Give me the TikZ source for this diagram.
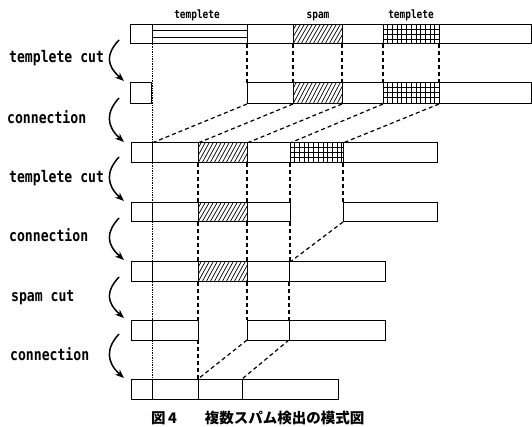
\documentclass[tikz,border=0pt]{standalone}
\usepackage{fontspec}
\newfontfamily\lblfont[FakeStretch=0.82]{DejaVu Sans Mono}
\newfontfamily\cjkfont{Noto Sans CJK JP}
\usetikzlibrary{arrows.meta}
\tikzset{
  bar/.style={draw=black, line width=1pt, fill=white},
  hline/.style={draw=black, line width=1pt},
  dline/.style={draw=black, line width=1.2pt, dash pattern=on 4pt off 3pt},
  dotline/.style={draw=black, line width=0.7pt, dash pattern=on 0.8pt off 0.9pt},
  hatchline/.style={draw=black, line width=0.7pt},
  steparrow/.style={draw=black, line width=1.5pt, -{Stealth[length=9pt,width=7pt]}},
  sidelbl/.style={font=\lblfont\bfseries\fontsize{16}{17}\selectfont, anchor=west, inner sep=0pt},
  toplbl/.style={font=\lblfont\bfseries\fontsize{11.5}{12}\selectfont, anchor=base, inner sep=0pt},
  caption/.style={font=\cjkfont\bfseries\fontsize{14.5}{15}\selectfont, anchor=west, inner sep=0pt}
}
\newcommand\hatchrect[4]{%
  \begin{scope}
    \clip (#1,#2) rectangle (#3,#4);
    \foreach \k in {-16,-12,...,60} {
      \draw[hatchline] ({#1+\k},#4) -- ({#1+\k+11},#2);
    }
  \end{scope}
  \draw[hline] (#1,#2) rectangle (#3,#4);
}
\newcommand\gridrect[4]{%
  \begin{scope}
    \clip (#1,#2) rectangle (#3,#4);
    \foreach \k in {4.7,9.4,...,60} {
      \draw[hatchline] ({#1+\k},#2) -- ({#1+\k},#4);
    }
    \foreach \k in {4.8,9.6,14.4} {
      \draw[hatchline] (#1,{#2+\k}) -- (#3,{#2+\k});
    }
  \end{scope}
  \draw[hline] (#1,#2) rectangle (#3,#4);
}
\begin{document}
\begin{tikzpicture}[x=1pt,y=-1pt]
\useasboundingbox (0,0) rectangle (532,427);
\fill[white] (0,0) rectangle (532,427);

% dotted guide
\coordinate (gtop) at (152,44);
\coordinate (gbot) at (152,379);
\draw[dotline] (gtop) -- (gbot);

% ---------- dashed connectors ----------
% row1 -> row2
\foreach \x in {247,293,342,383,439} \draw[dline] (\x,44) -- (\x,83);
% row2 -> row3
\foreach \a/\b in {247/152,293/198,342/247,383/290,439/343} \draw[dline] (\a,104) -- (\b,143);
% row3 -> row4
\foreach \x in {198,247,290,343} \draw[dline] (\x,163) -- (\x,203);
% row4 -> row5
\foreach \x in {198,247,290} \draw[dline] (\x,222) -- (\x,262);
\draw[dline] (343,222) -- (290,262);
% row5 -> row6
\foreach \x in {198,247,289} \draw[dline] (\x,282) -- (\x,320);
% row6 -> row7
\draw[dline] (198,340) -- (198,379);
\draw[dline] (247,340) -- (198,379);
\draw[dline] (289,340) -- (242,379);

% ---------- row 1 ----------
\draw[bar] (130,25) rectangle (152,44);
\draw[bar] (152,25) rectangle (531,44);
\draw[hline] (152,31) -- (247,31);
\draw[hline] (152,37.5) -- (247,37.5);
\draw[hline] (247,25) -- (247,44);
\hatchrect{293}{25}{342}{44}
\gridrect{383}{25}{439}{44}

% ---------- row 2 ----------
\draw[bar] (130,83) rectangle (151,104);
\draw[bar] (247,83) rectangle (531,104);
\hatchrect{293}{83}{342}{104}
\gridrect{383}{83}{439}{104}

% ---------- row 3 ----------
\draw[bar] (131,143) rectangle (152,163);
\draw[bar] (152,143) rectangle (437,163);
\hatchrect{198}{143}{247}{163}
\gridrect{290}{143}{343}{163}

% ---------- row 4 ----------
\draw[bar] (131,203) rectangle (152,222);
\draw[bar] (152,203) rectangle (290,222);
\hatchrect{198}{203}{247}{222}
\draw[bar] (343,203) rectangle (437,222);

% ---------- row 5 ----------
\draw[bar] (131,262) rectangle (152,282);
\draw[bar] (152,262) rectangle (385,282);
\hatchrect{198}{262}{247}{282}
\draw[hline] (289,262) -- (289,282);

% ---------- row 6 ----------
\draw[bar] (131,320) rectangle (152,340);
\draw[bar] (152,320) rectangle (198,340);
\draw[bar] (247,320) rectangle (385,340);
\draw[hline] (289,320) -- (289,340);

% ---------- row 7 ----------
\draw[bar] (131,379) rectangle (152,399);
\draw[bar] (152,379) rectangle (338,399);
\draw[hline] (198,379) -- (198,399);
\draw[hline] (242,379) -- (242,399);

% ---------- top labels ----------
\node[toplbl] (t1) at (197,19) {templete};
\node[toplbl] (t2) at (318,19) {spam};
\node[toplbl] (t3) at (411,19) {templete};

% ---------- side labels ----------
\node[sidelbl] (s1) at (9,58) {templete cut};
\node[sidelbl] (s2) at (7,117) {connection};
\node[sidelbl] (s3) at (9,178) {templete cut};
\node[sidelbl] (s4) at (9,235) {connection};
\node[sidelbl] (s5) at (11,298) {spam cut};
\node[sidelbl] (s6) at (10,354) {connection};

% ---------- curved arrows ----------
\foreach \ys/\ye in {40/81, 98/142, 157/201, 218/260, 277/318, 334/378} {
  \draw[steparrow] (119,\ys) .. controls (106,{\ys+14}) and (106,{\ye-16}) .. (124,\ye);
}

% ---------- caption ----------
\node[caption] (cap) at (151,418) {図\,4\hspace{28pt}複数スパム検出の模式図};
\end{tikzpicture}
\end{document}
